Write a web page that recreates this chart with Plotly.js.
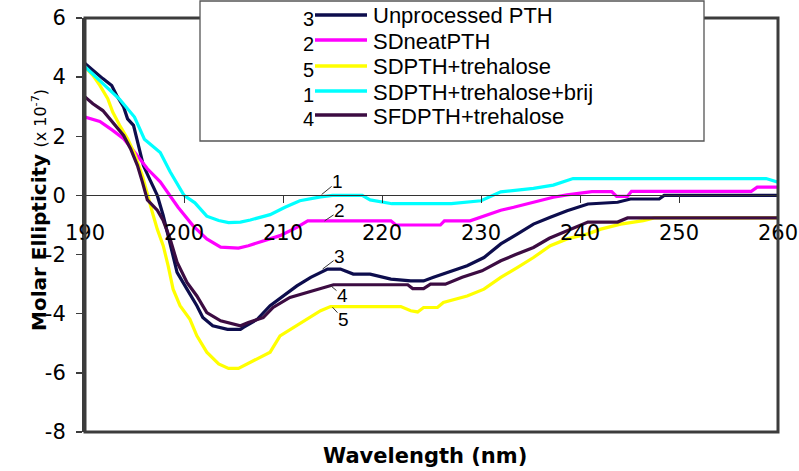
<!DOCTYPE html>
<html>
<head>
<meta charset="utf-8">
<script src="https://cdn.plot.ly/plotly-3.0.1.min.js"></script>
<style>html,body{margin:0;padding:0;background:#fff;}#chart{width:799px;height:471px;}</style>
</head>
<body>
<div id="chart"></div>
<script>
// ---- Data ----
const seriesNames = ["Unprocessed PTH", "SDneatPTH", "SDPTH+trehalose", "SDPTH+trehalose+brij", "SFDPTH+trehalose"];
const seriesNumbers = ["3", "2", "5", "1", "4"];
const seriesColors = ["#0d0d4d", "#ff00ff", "#ffff00", "#00ffff", "#3c0c42"];

// 3 - Unprocessed PTH
const wlUnprocessed = [190, 190.8, 191.8, 192.7, 193.2, 193.9, 194.3, 194.9, 195.4, 195.9, 196.6, 197.3, 197.9, 198.6, 199.3, 200.3, 201.3, 201.9, 202.9, 204.4, 205.7, 206, 207.4, 208.7, 210, 211.4, 212.8, 213.8, 214.5, 215.8, 217.1, 218.8, 220.9, 222.9, 224.2, 225.2, 226.6, 228.6, 230.3, 232, 233.7, 235.3, 237, 238.7, 240.8, 243.8, 245.1, 248, 248.5, 260];
const meUnprocessed = [4.46, 4.23, 3.95, 3.72, 3.38, 2.99, 2.59, 2.37, 1.69, 1.01, 0.5, 0, -0.68, -1.7, -2.6, -3.17, -3.73, -4.13, -4.41, -4.53, -4.53, -4.46, -4.19, -3.73, -3.4, -3.06, -2.77, -2.6, -2.49, -2.49, -2.66, -2.66, -2.83, -2.89, -2.89, -2.77, -2.6, -2.38, -2.1, -1.64, -1.3, -0.97, -0.74, -0.52, -0.29, -0.23, -0.12, -0.12, 0, 0];

// 2 - SDneatPTH
const wlSDneat = [190, 191.5, 192.8, 193.9, 195, 196.3, 197.6, 198.4, 199.4, 200.9, 202.3, 203.7, 205.5, 206.5, 208.5, 209.7, 211.4, 212.5, 220.9, 221.4, 225.9, 226.3, 228.9, 230.6, 232, 233.3, 235.3, 237.3, 238.7, 241.2, 243.2, 243.7, 244.8, 245.2, 257.3, 257.9, 260];
const meSDneat = [2.65, 2.5, 2.2, 1.92, 1.47, 0.9, 0.46, 0.08, -0.4, -1.02, -1.47, -1.75, -1.78, -1.7, -1.5, -1.36, -1.08, -0.86, -0.86, -1.0, -1.0, -0.86, -0.86, -0.67, -0.5, -0.4, -0.23, -0.06, 0.02, 0.13, 0.13, -0.03, -0.03, 0.14, 0.14, 0.28, 0.28];

// 5 - SDPTH+trehalose
const wlTrehalose = [190, 190.8, 191.5, 192.3, 192.8, 193.5, 194.3, 195, 195.8, 196.3, 196.8, 197.3, 197.9, 198.4, 198.9, 199.6, 200.6, 201.3, 202.3, 203.5, 204.5, 205.5, 206.7, 208.7, 209.7, 211.4, 212.8, 213.8, 214.8, 221.9, 222.9, 223.6, 224.2, 225.6, 226.2, 228.6, 230.3, 232, 233.7, 235.3, 237, 238.7, 240.8, 242.1, 244.1, 246.4, 247.5, 260];
const meTrehalose = [4.35, 4.06, 3.72, 3.27, 2.82, 2.37, 1.92, 1.41, 0.67, 0.0, -0.57, -1.14, -1.7, -2.38, -3.17, -3.73, -4.19, -4.75, -5.3, -5.7, -5.85, -5.85, -5.65, -5.3, -4.75, -4.41, -4.13, -3.9, -3.76, -3.76, -3.9, -3.94, -3.79, -3.79, -3.62, -3.4, -3.17, -2.77, -2.43, -2.1, -1.7, -1.47, -1.3, -1.14, -0.97, -0.85, -0.76, -0.76];

// 1 - SDPTH+trehalose+brij
const wlBrij = [190, 192.5, 193.5, 195, 196, 197.6, 198.6, 200, 201.1, 202.3, 203.5, 204.5, 205.7, 206.7, 208.7, 210.2, 211.7, 213.8, 215, 218, 218.8, 221, 227, 230, 232, 235.3, 237.3, 239.3, 258.8, 260];
const meBrij = [4.35, 3.55, 3.25, 2.65, 1.9, 1.45, 0.8, 0, -0.25, -0.7, -0.85, -0.92, -0.9, -0.83, -0.65, -0.4, -0.18, -0.05, 0, 0, -0.15, -0.28, -0.28, -0.18, 0.12, 0.24, 0.35, 0.57, 0.57, 0.45];

// 4 - SFDPTH+trehalose
const wlSFD = [190, 190.8, 191.8, 192.8, 193.9, 194.6, 195.3, 195.8, 196.3, 197.3, 197.9, 198.6, 199.3, 200.3, 201.3, 202.3, 203.7, 205.7, 206.5, 208, 209, 210.7, 212.5, 213.8, 215.1, 222.6, 223.1, 224.2, 224.9, 226.4, 228.1, 230.1, 232, 233.5, 235.3, 236.9, 238.7, 240.8, 243.8, 244.8, 260];
const meSFD = [3.33, 3.1, 2.87, 2.48, 2.03, 1.58, 1.01, 0.45, -0.15, -0.5, -0.85, -1.47, -2.26, -2.94, -3.4, -3.96, -4.24, -4.41, -4.3, -4.13, -3.79, -3.45, -3.28, -3.17, -3.02, -3.02, -3.15, -3.15, -3.0, -3.0, -2.77, -2.55, -2.21, -2.0, -1.76, -1.45, -1.19, -0.9, -0.9, -0.76, -0.76];

const xTickVals = [190, 200, 210, 220, 230, 240, 250, 260];
const xTickText = ["190", "200", "210", "220", "230", "240", "250", "260"];
const yTickVals = [-8, -6, -4, -2, 0, 2, 4, 6];
const yTickText = ["-8", "-6", "-4", "-2", "0", "2", "4", "6"];

// curve label anchor points (wavelength, value) for the numbered leader labels
const labelPts = [
  {n: "1", x: 213.9, y: 0.03, ax: 16, ay: -13},
  {n: "2", x: 214.2, y: -0.86, ax: 15, ay: -10},
  {n: "3", x: 214.0, y: -2.49, ax: 17, ay: -13},
  {n: "4", x: 214.8, y: -3.05, ax: 12, ay: 10},
  {n: "5", x: 215.0, y: -3.78, ax: 11, ay: 12}
];

// ---- Build ----
const xs = [wlUnprocessed, wlSDneat, wlTrehalose, wlBrij, wlSFD];
const ys = [meUnprocessed, meSDneat, meTrehalose, meBrij, meSFD];
const traces = xs.map((x, i) => ({
  type: "scatter", mode: "lines", x: x, y: ys[i], name: seriesNames[i],
  line: {color: seriesColors[i], width: 3.2}, showlegend: false, hoverinfo: "x+y+name"
}));

const W = 799, H = 471, M = {l: 85, r: 21, t: 18, b: 39};
const pw = W - M.l - M.r, ph = H - M.t - M.b;
const px = v => (v - M.l) / pw;          // pixel x -> paper x
const py = v => (H - M.b - v) / ph;      // pixel y -> paper y

const FONT = "Liberation Sans, Arial, sans-serif";
const shapes = [
  {type: "rect", xref: "paper", yref: "paper", x0: 0, x1: 1, y0: 0, y1: 1, layer: "above",
   line: {color: "#3c3c3c", width: 3}},
  {type: "rect", xref: "paper", yref: "paper", x0: px(200), x1: px(704), y0: py(141), y1: py(1), layer: "above",
   fillcolor: "#ffffff", line: {color: "#555555", width: 1.3}}
];
const annotations = [];
const rowY = [15, 40, 66, 91, 115];
seriesNames.forEach((nm, i) => {
  shapes.push({type: "line", xref: "paper", yref: "paper", x0: px(315), x1: px(367), y0: py(rowY[i]), y1: py(rowY[i]),
    layer: "above", line: {color: seriesColors[i], width: 3.6}});
  annotations.push({xref: "paper", yref: "paper", x: px(371), y: py(rowY[i] + 1), xanchor: "left", yanchor: "middle",
    text: nm, showarrow: false, font: {family: FONT, size: 22, color: "#000"}});
  annotations.push({xref: "paper", yref: "paper", x: px(308), y: py(rowY[i] + 4), xanchor: "center", yanchor: "middle",
    text: seriesNumbers[i], showarrow: false, font: {family: FONT, size: 20, color: "#000"}});
});
labelPts.forEach(p => {
  annotations.push({x: p.x, y: p.y, xref: "x", yref: "y", text: p.n, showarrow: true, arrowhead: 0,
    arrowwidth: 1, arrowcolor: "#333", ax: p.ax, ay: p.ay, standoff: 0, borderpad: 0,
    font: {family: FONT, size: 19, color: "#000"}});
});
// axis titles
annotations.push({xref: "paper", yref: "paper", x: px(425), y: py(456), xanchor: "center", yanchor: "middle",
  showarrow: false, text: "<b>Wavelength (nm)</b>", font: {family: "DejaVu Sans", size: 21, color: "#000"}});
annotations.push({xref: "paper", yref: "paper", x: px(39), y: py(210), xanchor: "center", yanchor: "middle",
  showarrow: false, textangle: -90,
  text: "<b>Molar Ellipticity</b> <span style=\"font-size:16px\">(x 10<sup>-7</sup>)</span>",
  font: {family: "DejaVu Sans", size: 20, color: "#000"}});

const layout = {
  width: W, height: H, margin: M, paper_bgcolor: "#fff", plot_bgcolor: "#fff", showlegend: false,
  xaxis: {range: [190, 260], tickvals: xTickVals, ticktext: xTickText, anchor: "free", position: 8 / 14,
    showline: true, linecolor: "#333", linewidth: 1, ticks: "outside", ticklen: 7, tickwidth: 1, tickcolor: "#333",
    showgrid: false, zeroline: false, ticklabelstandoff: 11,
    tickfont: {family: "DejaVu Sans", size: 21, color: "#000"}},
  yaxis: {range: [-8, 6], tickvals: yTickVals, ticktext: yTickText,
    showline: true, linecolor: "#3c3c3c", linewidth: 3, ticks: "outside", ticklen: 6, tickwidth: 1.5, tickcolor: "#3c3c3c",
    showgrid: false, zeroline: false, ticklabelstandoff: 6,
    tickfont: {family: "DejaVu Sans", size: 21, color: "#000"}},
  shapes: shapes, annotations: annotations
};
Plotly.newPlot("chart", traces, layout, {staticPlot: true, displayModeBar: false});
</script>
</body>
</html>
